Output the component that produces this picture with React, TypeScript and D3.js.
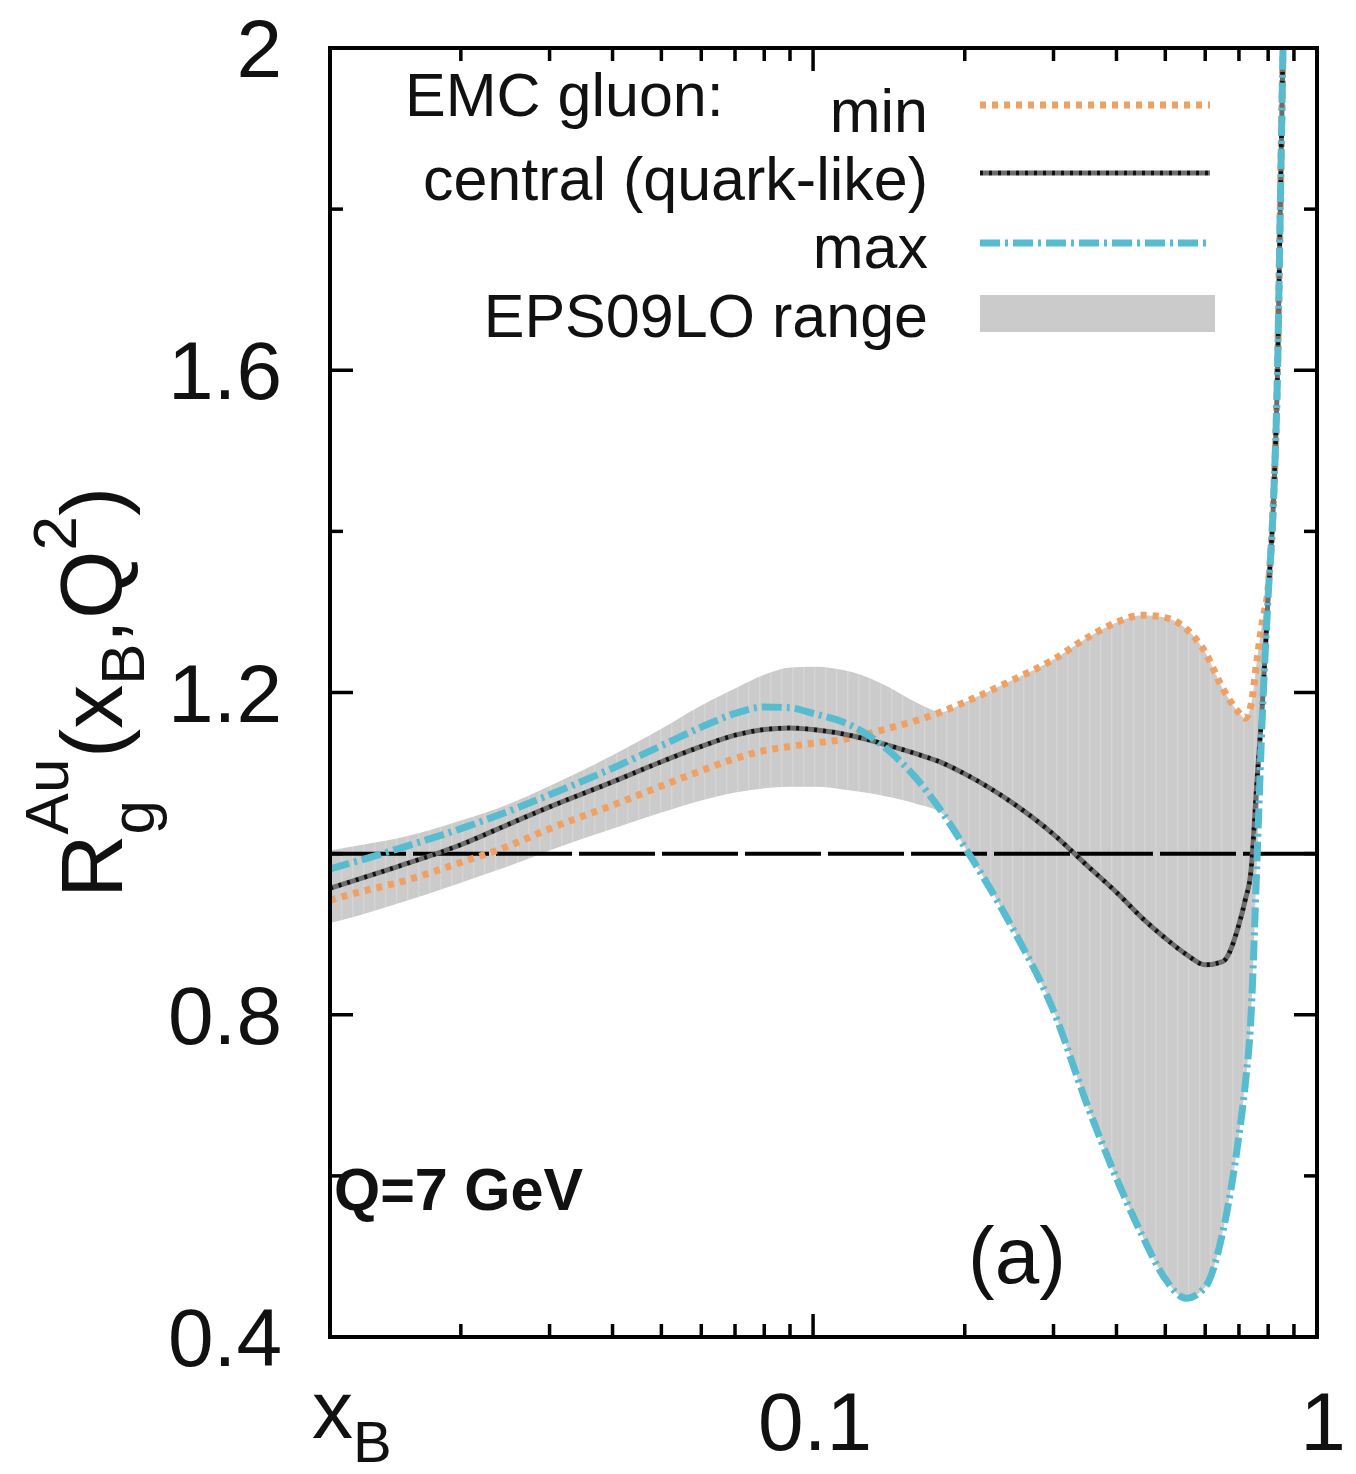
import React from 'react';
import * as d3 from 'd3';

// x_B sampling points shared by every curve
const xGrid = [0.011, 0.0125, 0.015, 0.02, 0.025, 0.03, 0.04, 0.05, 0.06, 0.07, 0.08, 0.09, 0.1, 0.12, 0.14, 0.16, 0.18, 0.2, 0.25, 0.3, 0.35, 0.4, 0.45, 0.5, 0.55, 0.6, 0.65, 0.7, 0.72, 0.74, 0.76, 0.78, 0.8, 0.82, 0.835, 0.845, 0.855, 0.865];

// EMC gluon, minimal variant
const gluonMin = [0.942, 0.952, 0.964, 0.989, 1.010, 1.031, 1.060, 1.084, 1.103, 1.118, 1.128, 1.133, 1.137, 1.144, 1.155, 1.165, 1.176, 1.188, 1.216, 1.241, 1.268, 1.287, 1.296, 1.293, 1.279, 1.250, 1.205, 1.175, 1.168, 1.185, 1.24, 1.29, 1.33, 1.44, 1.60, 1.79, 1.98, 2.15];

// EMC gluon, central (quark-like)
const gluonCentral = [0.957, 0.968, 0.984, 1.011, 1.037, 1.058, 1.089, 1.114, 1.133, 1.147, 1.154, 1.156, 1.154, 1.146, 1.135, 1.124, 1.113, 1.099, 1.062, 1.024, 0.985, 0.952, 0.920, 0.895, 0.875, 0.862, 0.866, 0.912, 0.942, 0.980, 1.09, 1.19, 1.32, 1.44, 1.60, 1.79, 1.98, 2.15];

// EMC gluon, maximal variant
const gluonMax = [0.981, 0.991, 1.006, 1.031, 1.053, 1.073, 1.106, 1.134, 1.157, 1.174, 1.182, 1.181, 1.174, 1.158, 1.130, 1.094, 1.052, 1.008, 0.905, 0.805, 0.688, 0.597, 0.526, 0.472, 0.448, 0.462, 0.530, 0.650, 0.712, 0.800, 0.99, 1.18, 1.32, 1.44, 1.60, 1.79, 1.98, 2.15];

// EPS09LO uncertainty band edges
const bandUpper = [1.004, 1.010, 1.019, 1.041, 1.062, 1.084, 1.122, 1.155, 1.184, 1.205, 1.222, 1.231, 1.232, 1.225, 1.208, 1.188, 1.176, 1.188, 1.216, 1.241, 1.268, 1.287, 1.296, 1.293, 1.279, 1.250, 1.205, 1.175, 1.168, 1.185, 1.24, 1.29, 1.33, 1.44, 1.60, 1.79, 1.98, 2.15];
const bandLower = [0.914, 0.923, 0.938, 0.964, 0.985, 1.004, 1.031, 1.051, 1.066, 1.076, 1.081, 1.083, 1.083, 1.078, 1.071, 1.062, 1.050, 1.008, 0.905, 0.805, 0.688, 0.597, 0.526, 0.472, 0.448, 0.462, 0.530, 0.650, 0.712, 0.800, 0.99, 1.18, 1.32, 1.44, 1.60, 1.79, 1.98, 2.15];

// axis ticks
const xMajorTicks = [0.1, 1];
const xMajorLabels = ['0.1', '1'];
const xMinorTicks = [0.02, 0.03, 0.04, 0.05, 0.06, 0.07, 0.08, 0.09, 0.2, 0.3, 0.4, 0.5, 0.6, 0.7, 0.8, 0.9];
const yMajorTicks = [0.4, 0.8, 1.2, 1.6, 2.0];
const yMajorLabels = ['0.4', '0.8', '1.2', '1.6', '2'];
const yMinorTicks = [0.6, 1.0, 1.4, 1.8];

const legendLabels = ['min', 'central (quark-like)', 'max', 'EPS09LO range'];

const W = 1356;
const H = 1474;
const P = { left: 330, right: 1317, top: 48, bottom: 1337 };
const FONT = "'Liberation Sans', Arial, Helvetica, sans-serif";

const ORANGE = '#f0a062';
const CYAN = '#58bcd1';
const BAND = '#cbcbcb';

const styles = {
  min: { stroke: ORANGE, strokeWidth: 7, strokeDasharray: '6 6' },
  maxLine: { stroke: CYAN, strokeWidth: 7, strokeDasharray: '20 5 3 5' },
};

export default function App() {
  const x = d3.scaleLog().domain([0.011, 1]).range([P.left, P.right]);
  const y = d3.scaleLinear().domain([0.4, 2]).range([P.bottom, P.top]);

  const lineGen = d3
    .line<number>()
    .x((_, i) => x(xGrid[i]))
    .y((d) => y(d))
    .curve(d3.curveMonotoneX);

  const bandPath = d3
    .area<number>()
    .x((_, i) => x(xGrid[i]))
    .y0((_, i) => y(bandLower[i]))
    .y1((d) => y(d))
    .curve(d3.curveMonotoneX)(bandUpper) as string;

  const minPath = lineGen(gluonMin) as string;
  const centralPath = lineGen(gluonCentral) as string;
  const maxPath = lineGen(gluonMax) as string;

  const majorLen = 23;
  const minorLen = 13;
  const tickStroke = { stroke: '#000', strokeWidth: 3.5 };

  const legendRight = 928;
  const legendRows = [132, 200, 268, 337];
  const sampleX0 = 980;
  const sampleX1 = 1210;

  return (
    <svg
      width={W}
      height={H}
      viewBox={`0 0 ${W} ${H}`}
      style={{ position: 'absolute', left: 0, top: 0, background: '#fff' }}
      fontFamily={FONT}
    >
      <defs>
        <clipPath id="plotClip">
          <rect x={P.left} y={P.top} width={P.right - P.left} height={P.bottom - P.top} />
        </clipPath>
        <pattern id="bandStripes" width="11" height="20" patternUnits="userSpaceOnUse">
          <rect width="11" height="20" fill={BAND} />
          <rect x="0" width="1.5" height="20" fill="#d4d4d4" />
        </pattern>
      </defs>

      <rect width={W} height={H} fill="#fff" />

      <g clipPath="url(#plotClip)">
        <path d={bandPath} fill="url(#bandStripes)" stroke="none" />
        <line
          x1={P.left}
          x2={P.right}
          y1={y(1)}
          y2={y(1)}
          stroke="#000"
          strokeWidth={4}
          strokeDasharray="76 7"
        />
        <path d={minPath} fill="none" {...styles.min} />
        <path d={centralPath} fill="none" stroke="#6e6e6e" strokeWidth={5} />
        <path d={centralPath} fill="none" stroke="#111" strokeWidth={4.5} strokeDasharray="3 6" />
        <path d={maxPath} fill="none" {...styles.maxLine} />
      </g>

      {/* frame */}
      <rect
        x={P.left}
        y={P.top}
        width={P.right - P.left}
        height={P.bottom - P.top}
        fill="none"
        stroke="#000"
        strokeWidth={4}
      />

      {/* x ticks, mirrored on top */}
      {xMinorTicks.map((t) => (
        <g key={`xm${t}`}>
          <line x1={x(t)} x2={x(t)} y1={P.bottom} y2={P.bottom - minorLen} {...tickStroke} />
          <line x1={x(t)} x2={x(t)} y1={P.top} y2={P.top + minorLen} {...tickStroke} />
        </g>
      ))}
      {xMajorTicks.map((t, i) => (
        <g key={`xM${t}`}>
          <line x1={x(t)} x2={x(t)} y1={P.bottom} y2={P.bottom - majorLen} {...tickStroke} />
          <line x1={x(t)} x2={x(t)} y1={P.top} y2={P.top + majorLen} {...tickStroke} />
          <text x={x(t) + (i === 1 ? 6 : 2)} y={1450} fontSize={82} textAnchor="middle" fill="#111">
            {xMajorLabels[i]}
          </text>
        </g>
      ))}

      {/* y ticks, mirrored on the right */}
      {yMinorTicks.map((t) => (
        <g key={`ym${t}`}>
          <line x1={P.left} x2={P.left + minorLen} y1={y(t)} y2={y(t)} {...tickStroke} />
          <line x1={P.right} x2={P.right - minorLen} y1={y(t)} y2={y(t)} {...tickStroke} />
        </g>
      ))}
      {yMajorTicks.map((t, i) => (
        <g key={`yM${t}`}>
          <line x1={P.left} x2={P.left + majorLen} y1={y(t)} y2={y(t)} {...tickStroke} />
          <line x1={P.right} x2={P.right - majorLen} y1={y(t)} y2={y(t)} {...tickStroke} />
          <text x={282} y={y(t) + 29} fontSize={82} textAnchor="end" fill="#111">
            {yMajorLabels[i]}
          </text>
        </g>
      ))}

      {/* x axis title */}
      <text x={312} y={1438} fontSize={82} fill="#111">
        x<tspan fontSize={58} dy={24}>B</tspan>
      </text>

      {/* y axis title */}
      <text transform="translate(122, 898) rotate(-90)" fontSize={88} fill="#111">
        R
        <tspan fontSize={62} dy={-54}>Au</tspan>
        <tspan fontSize={62} dx={-76} dy={86}>g</tspan>
        <tspan dx={42} dy={-32}>(x</tspan>
        <tspan fontSize={62} dy={22}>B</tspan>
        <tspan dy={-22}>,Q</tspan>
        <tspan fontSize={62} dy={-46}>2</tspan>
        <tspan dy={46}>)</tspan>
      </text>

      {/* annotations */}
      <text x={334} y={1210} fontSize={60} fontWeight="bold" fill="#111" textLength={249} lengthAdjust="spacingAndGlyphs">
        Q=7 GeV
      </text>
      <text x={1017} y={1283} fontSize={80} textAnchor="middle" fill="#111">
        (a)
      </text>

      {/* legend */}
      <text x={405} y={116} fontSize={61} fill="#111">
        EMC gluon:
      </text>
      {legendLabels.map((lab, i) => (
        <text key={lab} x={legendRight} y={legendRows[i]} fontSize={61} textAnchor="end" fill="#111">
          {lab}
        </text>
      ))}
      <line x1={sampleX0} x2={sampleX1} y1={105} y2={105} {...styles.min} />
      <line x1={sampleX0} x2={sampleX1} y1={173} y2={173} stroke="#6e6e6e" strokeWidth={5} />
      <line x1={sampleX0} x2={sampleX1} y1={173} y2={173} stroke="#111" strokeWidth={4.5} strokeDasharray="3 6" />
      <line x1={sampleX0} x2={sampleX1} y1={243} y2={243} {...styles.maxLine} />
      <rect x={sampleX0} y={295} width={235} height={37} fill={BAND} />
    </svg>
  );
}
